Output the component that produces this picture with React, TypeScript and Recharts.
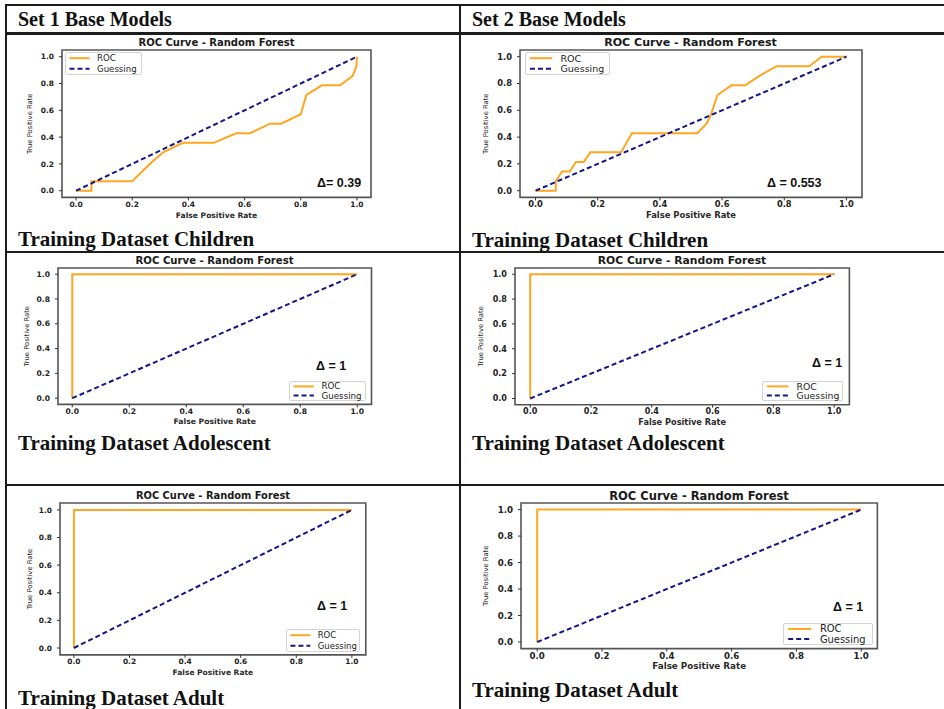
import React from 'react';
import { LineChart, Line, XAxis, YAxis, ReferenceArea } from 'recharts';

// ---------------- data ----------------
const AXIS_TICKS = [0, 0.2, 0.4, 0.6, 0.8, 1.0];
const AXIS_TICK_LABELS = ['0.0', '0.2', '0.4', '0.6', '0.8', '1.0'];
const AXIS_DOMAIN: [number, number] = [-0.05, 1.05];

const setHeaders = ['Set 1 Base Models', 'Set 2 Base Models'];
const rowLabels = ['Training Dataset Children', 'Training Dataset Adolescent', 'Training Dataset Adult'];
const plotTitle = 'ROC Curve - Random Forest';
const xAxisTitle = 'False Positive Rate';
const yAxisTitle = 'True Positive Rate';
const seriesNames = ['ROC', 'Guessing'];

const set1ChildrenFpr = [0, 0.055, 0.055, 0.2, 0.235, 0.27, 0.31, 0.38, 0.49, 0.57, 0.62, 0.69, 0.73, 0.8, 0.82, 0.875, 0.94, 0.985, 0.998, 1];
const set1ChildrenTpr = [0, 0, 0.071, 0.071, 0.143, 0.214, 0.286, 0.357, 0.357, 0.429, 0.429, 0.5, 0.5, 0.571, 0.714, 0.786, 0.786, 0.857, 0.929, 1];

const set2ChildrenFpr = [0, 0.065, 0.065, 0.085, 0.11, 0.13, 0.155, 0.176, 0.275, 0.31, 0.52, 0.55, 0.565, 0.585, 0.63, 0.675, 0.72, 0.775, 0.88, 0.92, 1];
const set2ChildrenTpr = [0, 0, 0.071, 0.143, 0.143, 0.214, 0.214, 0.286, 0.286, 0.429, 0.429, 0.5, 0.571, 0.714, 0.786, 0.786, 0.857, 0.929, 0.929, 1, 1];

const perfectFpr = [0, 0, 1];
const perfectTpr = [0, 1, 1];

const guessFpr = [0, 1];
const guessTpr = [0, 1];

const deltaLabels = ['Δ= 0.39', 'Δ = 0.553', 'Δ = 1', 'Δ = 1', 'Δ = 1', 'Δ = 1'];

// ---------------- helpers ----------------
const toPoints = (xs: number[], ys: number[]) => xs.map((x, i) => ({ fpr: x, tpr: ys[i] }));
const guessPoints = toPoints(guessFpr, guessTpr);

const SANS = '"DejaVu Sans", sans-serif';
const SERIF = '"Liberation Serif", "Times New Roman", serif';
const ROC_COLOR = '#FFA51F';
const GUESS_COLOR = '#15158A';
const LINE_COLOR = '#1c1c1c';

type PanelCfg = {
  roc: { fpr: number; tpr: number }[];
  frame: [number, number, number, number];
  k: number;
  yLabOff: number;
  xLabDy: number;
  legend: { x: number; y: number; w: number; h: number };
  delta: { x: number; y: number; text: string };
};

const panels: PanelCfg[] = [
  {
    roc: toPoints(set1ChildrenFpr, set1ChildrenTpr),
    frame: [62, 50.3, 371, 197.7], k: 1, yLabOff: 32, xLabDy: 17.8,
    legend: { x: 65, y: 52, w: 77, h: 23 },
    delta: { x: 317, y: 183, text: deltaLabels[0] },
  },
  {
    roc: toPoints(set2ChildrenFpr, set2ChildrenTpr),
    frame: [519.5, 50.3, 861.5, 197.7], k: 1.107, yLabOff: 34, xLabDy: 17.8,
    legend: { x: 525, y: 52, w: 85, h: 23 },
    delta: { x: 767, y: 183, text: deltaLabels[1] },
  },
  {
    roc: toPoints(perfectFpr, perfectTpr),
    frame: [57.8, 267.8, 371.3, 404.2], k: 1.014, yLabOff: 31, xLabDy: 17.5,
    legend: { x: 289, y: 381, w: 77, h: 20 },
    delta: { x: 316, y: 366, text: deltaLabels[2] },
  },
  {
    roc: toPoints(perfectFpr, perfectTpr),
    frame: [514.8, 267.8, 849.2, 404.5], k: 1.08, yLabOff: 34, xLabDy: 17.5,
    legend: { x: 762, y: 380.5, w: 81, h: 20 },
    delta: { x: 812, y: 363, text: deltaLabels[3] },
  },
  {
    roc: toPoints(perfectFpr, perfectTpr),
    frame: [60.1, 503.1, 365.9, 655], k: 0.99, yLabOff: 30, xLabDy: 18,
    legend: { x: 286, y: 629, w: 74, h: 23 },
    delta: { x: 317, y: 606, text: deltaLabels[4] },
  },
  {
    roc: toPoints(perfectFpr, perfectTpr),
    frame: [520.8, 502.7, 877.2, 648.3], k: 1.153, yLabOff: 35, xLabDy: 17.8,
    legend: { x: 783, y: 623, w: 90, h: 22 },
    delta: { x: 833, y: 607, text: deltaLabels[5] },
  },
];

const fmtTick = (v: number) => {
  const i = AXIS_TICKS.findIndex((t) => Math.abs(t - v) < 1e-9);
  return i >= 0 ? AXIS_TICK_LABELS[i] : String(v);
};

function LegendBox({ cfg }: { cfg: PanelCfg }) {
  const { x, y, w, h } = cfg.legend;
  const k = cfg.k;
  const fs = 8.6 * k;
  const rows = [
    { name: seriesNames[0], color: ROC_COLOR, dash: undefined as string | undefined, cy: h * 0.27 },
    { name: seriesNames[1], color: GUESS_COLOR, dash: '5 3', cy: h * 0.73 },
  ];
  return (
    <div
      style={{
        position: 'absolute', left: x, top: y, width: w, height: h,
        border: '1px solid #d4d4d4', borderRadius: 2, background: '#fff', boxSizing: 'border-box',
      }}
    >
      <svg width={w} height={h} style={{ position: 'absolute', left: -1, top: -1 }}>
        {rows.map((r) => (
          <g key={r.name}>
            <line x1={4.5 * k} x2={24.5 * k} y1={r.cy} y2={r.cy} stroke={r.color} strokeWidth={2} strokeDasharray={r.dash} />
            <text x={32 * k} y={r.cy} dominantBaseline="central" fontFamily={SANS} fontSize={fs} fill="#222">
              {r.name}
            </text>
          </g>
        ))}
      </svg>
    </div>
  );
}

function RocPanel({ cfg }: { cfg: PanelCfg }) {
  const [l, t, r, b] = cfg.frame;
  const yw = 46;
  const mr = 4;
  const mt = 4;
  const xh = 26;
  const pw = r - l;
  const ph = b - t;
  const W = pw + yw + mr;
  const H = ph + mt + xh;
  const k = cfg.k;
  const tickStyle = { fontFamily: SANS, fontSize: 7.5 * k, fontWeight: 'bold', fill: '#222' };
  return (
    <>
      <div style={{ position: 'absolute', left: l - yw, top: t - mt }}>
        <LineChart width={W} height={H} margin={{ top: mt, right: mr, bottom: 0, left: 0 }}>
          <ReferenceArea
            x1={AXIS_DOMAIN[0]} x2={AXIS_DOMAIN[1]} y1={AXIS_DOMAIN[0]} y2={AXIS_DOMAIN[1]}
            fill="none" stroke="#555" strokeWidth={1.6} ifOverflow="visible"
          />
          <XAxis
            type="number" dataKey="fpr" domain={AXIS_DOMAIN} ticks={AXIS_TICKS} allowDataOverflow interval={0}
            tickFormatter={fmtTick} axisLine={false} tickSize={3} tickMargin={1} tick={tickStyle}
            tickLine={{ stroke: '#333' }} height={xh}
            label={() => (
              <text
                x={yw + pw / 2} y={mt + ph + cfg.xLabDy} textAnchor="middle" dominantBaseline="central"
                fontFamily={SANS} fontWeight="bold" fontSize={7.6 * k} fill="#2a2a2a"
              >
                {xAxisTitle}
              </text>
            )}
          />
          <YAxis
            type="number" dataKey="tpr" domain={AXIS_DOMAIN} ticks={AXIS_TICKS} allowDataOverflow interval={0}
            tickFormatter={fmtTick} axisLine={false} tickSize={3} tickMargin={5} tick={tickStyle}
            tickLine={{ stroke: '#333' }} width={yw}
            label={() => {
              const cx = yw - cfg.yLabOff;
              const cy = mt + ph / 2;
              return (
                <text
                  x={cx} y={cy} textAnchor="middle" dominantBaseline="central" transform={`rotate(-90 ${cx} ${cy})`}
                  fontFamily={SANS} fontSize={6.8} fill="#1a1a1a"
                >
                  {yAxisTitle}
                </text>
              );
            }}
          />
          <Line
            data={cfg.roc} dataKey="tpr" name={seriesNames[0]} type="linear" stroke={ROC_COLOR} strokeWidth={2}
            dot={false} activeDot={false} isAnimationActive={false}
          />
          <Line
            data={guessPoints} dataKey="tpr" name={seriesNames[1]} type="linear" stroke={GUESS_COLOR} strokeWidth={2}
            strokeDasharray="5 3" dot={false} activeDot={false} isAnimationActive={false}
          />
        </LineChart>
      </div>
      <div
        style={{
          position: 'absolute', left: l - 100, width: pw + 200, top: t - 13, height: 12, lineHeight: '12px',
          textAlign: 'center', fontFamily: SANS, fontWeight: 'bold', fontSize: 10 * k, color: '#1a1a1a',
          whiteSpace: 'nowrap',
        }}
      >
        {plotTitle}
      </div>
      <LegendBox cfg={cfg} />
      <div
        style={{
          position: 'absolute', left: cfg.delta.x, top: cfg.delta.y - 8, height: 16, lineHeight: '16px',
          fontFamily: '"Liberation Sans", Arial, sans-serif', fontWeight: 'bold', fontSize: 12.5, color: '#111',
          whiteSpace: 'nowrap',
        }}
      >
        {cfg.delta.text}
      </div>
    </>
  );
}

const hLine = (top: number, h: number) => (
  <div style={{ position: 'absolute', left: 5, top, width: 939, height: h, background: LINE_COLOR }} />
);
const vLine = (left: number) => (
  <div style={{ position: 'absolute', left, top: 4, width: 2, height: 705, background: LINE_COLOR }} />
);

const tableText = (text: string, left: number, top: number, size: number) => (
  <div
    key={text + top + left}
    style={{
      position: 'absolute', left, top, height: size, lineHeight: `${size}px`, fontFamily: SERIF,
      fontWeight: 'bold', fontSize: size, color: '#111', whiteSpace: 'nowrap',
    }}
  >
    {text}
  </div>
);

export default function App() {
  return (
    <div
      style={{
        position: 'absolute', left: 0, top: 0, width: 944, height: 709, background: '#fff', overflow: 'hidden',
      }}
    >
      {hLine(4, 2)}
      {hLine(32, 3)}
      {hLine(251, 2)}
      {hLine(484, 2)}
      {vLine(5)}
      {vLine(458.5)}
      {tableText(setHeaders[0], 18, 9, 20)}
      {tableText(setHeaders[1], 472, 9, 20)}
      {tableText(rowLabels[0], 18, 228.5, 21)}
      {tableText(rowLabels[0], 472, 229.5, 21)}
      {tableText(rowLabels[1], 18, 432.7, 21)}
      {tableText(rowLabels[1], 472, 432.7, 21)}
      {tableText(rowLabels[2], 18, 688.4, 21)}
      {tableText(rowLabels[2], 472, 679.5, 21)}
      {panels.map((p, i) => (
        <RocPanel key={i} cfg={p} />
      ))}
    </div>
  );
}
